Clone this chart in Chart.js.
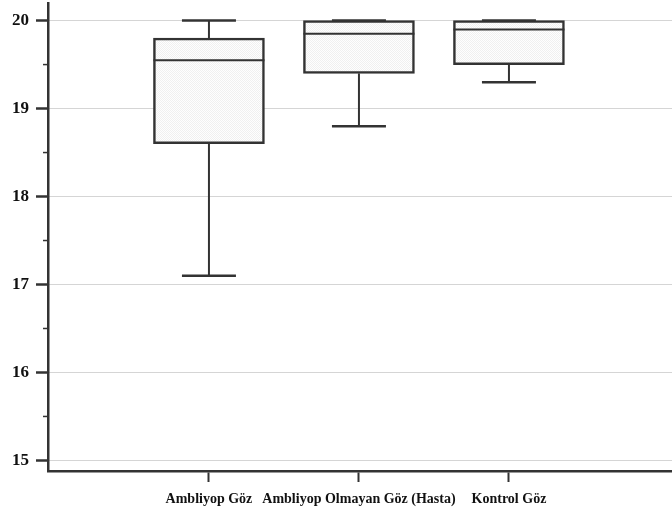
<!DOCTYPE html>
<html>
<head>
<meta charset="utf-8">
<script src="https://cdn.jsdelivr.net/npm/chart.js@4.4.1/dist/chart.umd.min.js"></script>
<style>
  html, body { margin: 0; padding: 0; background: #fff; }
  #wrap { width: 672px; height: 518px; }
</style>
</head>
<body>
<div id="wrap"><canvas id="boxChart"></canvas></div>
<script>
// --- Data ---
const groups = ['Ambliyop Göz', 'Ambliyop Olmayan Göz (Hasta)', 'Kontrol Göz'];
const whiskerLow = [17.1, 18.8, 19.3];
const q1 = [18.6, 19.4, 19.5];
const medians = [19.55, 19.85, 19.9];
const q3 = [19.8, 20.0, 20.0];
const whiskerHigh = [20.0, 20.0, 20.0];
const yTicks = [15, 16, 17, 18, 19, 20];
const yMinorTicks = [15.5, 16.5, 17.5, 18.5, 19.5];

// --- Styling ---
const INK = '#333333';
const BOX_W = 111;   // px
const CAP_W = 54;    // px
const serif = '"Liberation Serif", "Times New Roman", serif';

// light dotted fill like the original
function dotPattern() {
  const c = document.createElement('canvas');
  c.width = 2; c.height = 2;
  const p = c.getContext('2d');
  p.fillStyle = '#fefefe';
  p.fillRect(0, 0, 2, 2);
  p.fillStyle = '#f0f0f0';
  p.fillRect(0, 0, 1, 1);
  p.fillRect(1, 1, 1, 1);
  return p.createPattern(c, 'repeat');
}

function seg(ctx, x1, y1, x2, y2) {
  ctx.beginPath();
  ctx.moveTo(x1, y1);
  ctx.lineTo(x2, y2);
  ctx.stroke();
}

// medians, whiskers and caps on top of the floating bars
const boxParts = {
  id: 'boxParts',
  afterDatasetsDraw(chart) {
    const { ctx, scales: { x, y } } = chart;
    ctx.save();
    ctx.strokeStyle = INK;
    groups.forEach((g, i) => {
      const cx = x.getPixelForValue(i + 1);
      ctx.lineWidth = 2;
      seg(ctx, cx, y.getPixelForValue(q3[i]), cx, y.getPixelForValue(whiskerHigh[i]));
      seg(ctx, cx, y.getPixelForValue(q1[i]), cx, y.getPixelForValue(whiskerLow[i]));
      ctx.lineWidth = 2.5;
      seg(ctx, cx - CAP_W / 2, y.getPixelForValue(whiskerHigh[i]), cx + CAP_W / 2, y.getPixelForValue(whiskerHigh[i]));
      seg(ctx, cx - CAP_W / 2, y.getPixelForValue(whiskerLow[i]), cx + CAP_W / 2, y.getPixelForValue(whiskerLow[i]));
      ctx.lineWidth = 2;
      seg(ctx, cx - BOX_W / 2, y.getPixelForValue(medians[i]), cx + BOX_W / 2, y.getPixelForValue(medians[i]));
    });
    ctx.restore();
  }
};

// short minor ticks on the y axis
const minorTicks = {
  id: 'minorTicks',
  afterDraw(chart) {
    const { ctx, scales: { y } } = chart;
    ctx.save();
    ctx.strokeStyle = INK;
    ctx.lineWidth = 1.5;
    yMinorTicks.forEach(v => {
      const py = y.getPixelForValue(v);
      seg(ctx, y.right - 5, py, y.right, py);
    });
    ctx.restore();
  }
};

new Chart(document.getElementById('boxChart').getContext('2d'), {
  type: 'bar',
  data: {
    datasets: [{
      data: groups.map((g, i) => ({ x: i + 1, y: [q1[i], q3[i]] })),
      backgroundColor: dotPattern(),
      borderColor: INK,
      borderWidth: 2.5,
      borderSkipped: false,
      barThickness: BOX_W
    }]
  },
  options: {
    responsive: true,
    maintainAspectRatio: false,
    animation: false,
    layout: { padding: { top: 3, right: 0, left: 0, bottom: 0 } },
    plugins: { legend: { display: false }, tooltip: { enabled: false } },
    scales: {
      x: {
        type: 'linear',
        offset: false,
        min: -0.073,
        max: 4.087,
        afterBuildTicks: s => { s.ticks = groups.map((g, i) => ({ value: i + 1 })); },
        afterFit: s => { s.height = 47; s.paddingLeft = 0; s.paddingRight = 0; },
        grid: { offset: false, drawOnChartArea: false, tickLength: 11, tickColor: INK, tickWidth: 2 },
        border: { color: INK, width: 2.5 },
        ticks: {
          autoSkip: false,
          maxRotation: 0,
          padding: 9,
          color: '#111',
          font: { family: serif, size: 14, weight: 'bold' },
          callback: v => groups[v - 1] ?? ''
        }
      },
      y: {
        min: 14.88,
        max: 20.2,
        afterBuildTicks: s => { s.ticks = yTicks.map(v => ({ value: v })); },
        afterFit: s => { s.width = 48; s.paddingTop = 0; s.paddingBottom = 0; },
        grid: { color: '#aaaaaa', lineWidth: 1, tickColor: INK, tickWidth: 2.5, tickLength: 12 },
        border: { color: INK, width: 2.5, dash: [1, 1] },
        ticks: {
          padding: 7,
          color: '#111',
          font: { family: serif, size: 17, weight: 'bold' }
        }
      }
    }
  },
  plugins: [boxParts, minorTicks]
});
</script>
</body>
</html>
